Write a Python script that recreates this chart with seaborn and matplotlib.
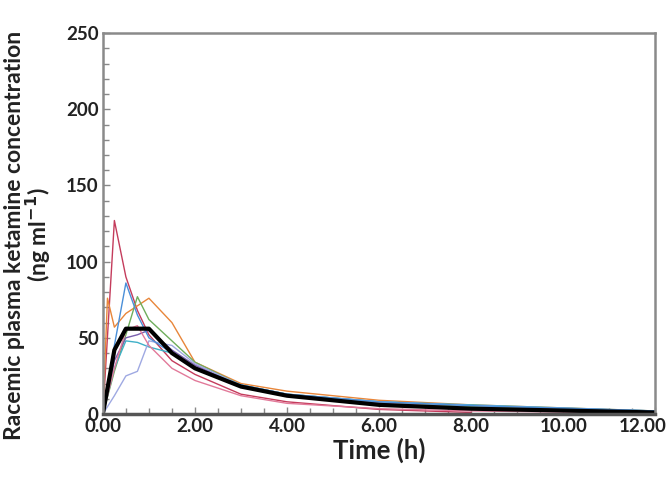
import numpy as np
import pandas as pd
import seaborn as sns
import matplotlib
matplotlib.use("Agg")
import matplotlib.pyplot as plt
import matplotlib.transforms as mtransforms
from matplotlib.ticker import MultipleLocator, FormatStrFormatter

# tempi di campionamento (h) e concentrazioni (ng/ml) per soggetto
tempi_std = [0, 0.25, 0.5, 0.75, 1, 1.5, 2, 3, 4, 6, 8, 12]
tempi_rosso = [0, 0.25, 0.5, 0.75, 1, 1.5, 2, 3, 4, 6, 8]
tempi_arancio = [0, 0.1, 0.25, 0.5, 1, 1.5, 2, 3, 4, 6, 8, 12]

conc_rosso = [0, 127, 90, 68, 52, 35, 26, 13, 8, 3, 1]
conc_arancio = [0, 76, 57, 66, 76, 60, 34, 20, 15, 9, 6, 2]
conc_blu = [0, 45, 86, 65, 50, 40, 30, 19, 13, 8, 5.5, 2]
conc_ciano = [0, 30, 48, 47, 44, 40, 31, 19, 13, 8, 6, 2]
conc_verde = [0, 28, 52, 77, 62, 48, 34, 19, 13, 8, 5, 2]
conc_lavanda = [0, 12, 25, 28, 48, 45, 33, 19, 13, 8, 5.5, 2]
conc_viola = [0, 35, 50, 52, 55, 42, 32, 18, 12, 7, 4, 1.5]
conc_rosa = [0, 30, 55, 58, 45, 30, 22, 12, 7, 3.5, 2, 0.5]

# media
conc_media = [0, 42, 56, 56, 56, 40, 30, 18, 12, 6, 3.5, 1]

soggetti = {
    "rosso": (tempi_rosso, conc_rosso, "#c43c5c"),
    "arancio": (tempi_arancio, conc_arancio, "#e8863a"),
    "verde": (tempi_std, conc_verde, "#6fae5c"),
    "ciano": (tempi_std, conc_ciano, "#3fb0c8"),
    "lavanda": (tempi_std, conc_lavanda, "#9fa9e2"),
    "viola": (tempi_std, conc_viola, "#7a5fae"),
    "rosa": (tempi_std, conc_rosa, "#e27a9a"),
    "blu": (tempi_std, conc_blu, "#4a8fd8"),
}

righe = []
for nome, (t, c, _) in soggetti.items():
    for ti, ci in zip(t, c):
        righe.append({"soggetto": nome, "tempo": ti, "conc": ci})
df = pd.DataFrame(righe)
palette = {nome: v[2] for nome, v in soggetti.items()}
df_media = pd.DataFrame({"tempo": tempi_std, "conc": conc_media})

sns.set_style("ticks")
plt.rcParams["font.family"] = ["Lato", "DejaVu Sans"]
plt.rcParams["font.weight"] = "bold"

fig = plt.figure(figsize=(6.68, 4.8), dpi=100)
ax = fig.add_axes([0.154, 0.1375, 0.827, 0.7935])

sns.lineplot(data=df, x="tempo", y="conc", hue="soggetto", palette=palette,
             estimator=None, linewidth=1.0, legend=False, ax=ax)
sns.lineplot(data=df_media, x="tempo", y="conc", color="black",
             linewidth=3.0, estimator=None, ax=ax)

ax.set_xlim(0, 12)
ax.set_ylim(0, 250)
ax.xaxis.set_major_locator(MultipleLocator(2))
ax.xaxis.set_minor_locator(MultipleLocator(0.5))
ax.yaxis.set_major_locator(MultipleLocator(50))
ax.yaxis.set_minor_locator(MultipleLocator(10))
ax.xaxis.set_major_formatter(FormatStrFormatter("%.2f"))
ax.tick_params(which="both", direction="in", color="#888888", width=1)
ax.tick_params(which="major", length=5, labelsize=13.5, pad=3)
ax.tick_params(which="minor", length=4)

for lato, sp in ax.spines.items():
    sp.set_visible(True)
    sp.set_color("#8a8a8a")
    sp.set_linewidth(1.8)
ax.spines["bottom"].set_color("#555555")
ax.spines["bottom"].set_linewidth(2.5)

ax.set_xlabel("Time (h)", fontsize=18.5, fontweight="bold", color="#222222", labelpad=2)
ax.set_ylabel("Racemic plasma ketamine concentration\n(ng ml$^{\\mathbf{-1}}$)",
              fontsize=16.5, fontweight="bold", color="#222222",
              linespacing=0.95)
ax.yaxis.set_label_coords(-0.09, 0.47)

fig.canvas.draw()
for lab in ax.get_xticklabels() + ax.get_yticklabels():
    lab.set_fontweight("bold")
    lab.set_color("#222222")
# l'etichetta 12.00 spostata a sinistra per restare nella figura
spostamento = mtransforms.ScaledTranslation(-0.13, 0, fig.dpi_scale_trans)
for tick in ax.xaxis.get_major_ticks():
    if tick.label1.get_text() == "12.00":
        tick.label1.set_transform(tick.label1.get_transform() + spostamento)

fig.savefig("out.png", dpi=100)
